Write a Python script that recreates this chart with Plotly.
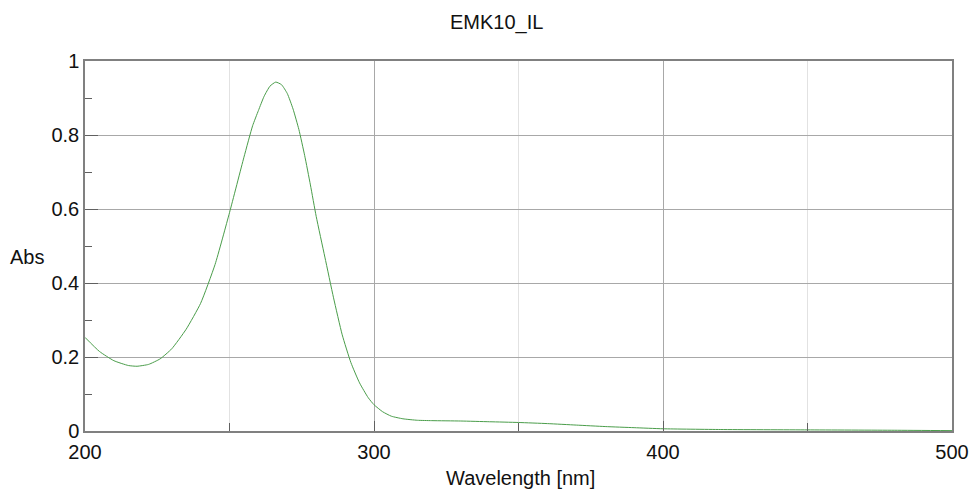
import plotly.graph_objects as go

wavelength = [200, 205, 210, 215, 218, 222, 226, 230, 235, 240, 245, 250, 255, 258, 260,
              262, 264, 266, 268, 270, 272, 274, 276, 278, 280, 283, 286, 289, 292, 295,
              298, 300, 303, 306, 310, 315, 320, 330, 340, 350, 360, 370, 380, 390, 400,
              420, 450, 480, 500]
absorbance = [0.253, 0.215, 0.190, 0.177, 0.175, 0.180, 0.195, 0.222, 0.275, 0.345, 0.450,
              0.590, 0.740, 0.825, 0.866, 0.905, 0.932, 0.943, 0.936, 0.912, 0.870, 0.815,
              0.745, 0.665, 0.580, 0.470, 0.360, 0.260, 0.185, 0.130, 0.090, 0.071, 0.052,
              0.040, 0.033, 0.029, 0.028, 0.027, 0.025, 0.023, 0.020, 0.016, 0.012, 0.009,
              0.006, 0.004, 0.003, 0.002, 0.001]

title_text = "EMK10_IL"
x_title = "Wavelength [nm]"
y_title = "Abs"

font_family = "Liberation Sans, Arial, sans-serif"

fig = go.Figure()
fig.add_trace(go.Scatter(x=wavelength, y=absorbance, mode="lines",
                         line=dict(color="#4a9d4a", width=1, shape="spline", smoothing=0.5),
                         showlegend=False, hoverinfo="skip"))

axis_common = dict(
    showline=True, linecolor="#808080", linewidth=1.5, mirror=True,
    ticks="inside", tickcolor="#606060", zeroline=False, automargin=False,
    tickfont=dict(family=font_family, size=20, color="#111111"),
)

fig.update_xaxes(
    range=[200, 500], tickvals=[200, 300, 400, 500], ticklen=10,
    showgrid=True, gridcolor="#a8a8a8", gridwidth=1,
    minor=dict(dtick=50, tick0=200, showgrid=True, gridcolor="#e2e2e2", gridwidth=1,
               ticks="inside", ticklen=8, tickcolor="#606060"),
    ticklabelstandoff=2, ticklabeloverflow="allow",
    **axis_common,
)
fig.update_yaxes(
    range=[0, 1], tickvals=[0, 0.2, 0.4, 0.6, 0.8, 1], ticktext=["0", "0.2", "0.4", "0.6", "0.8", "1"],
    ticklen=13,
    showgrid=True, gridcolor="#a8a8a8", gridwidth=1,
    minor=dict(dtick=0.1, tick0=0, showgrid=False, ticks="inside", ticklen=7, tickcolor="#606060"),
    **axis_common,
)

fig.update_layout(
    width=970, height=489,
    margin=dict(l=85, r=18, t=61, b=58, pad=0),
    paper_bgcolor="white", plot_bgcolor="white",
    font=dict(family=font_family, color="#111111"),
    annotations=[
        dict(text=title_text, xref="paper", yref="paper", x=0.475, y=1, yshift=39,
             xanchor="center", yanchor="middle", showarrow=False,
             font=dict(family=font_family, size=20, color="#111111")),
        dict(text=y_title, xref="paper", yref="paper", x=0, xshift=-58, y=0.47,
             xanchor="center", yanchor="middle", showarrow=False,
             font=dict(family=font_family, size=20, color="#111111")),
        dict(text=x_title, xref="paper", yref="paper", x=0.502, y=0, yshift=-47,
             xanchor="center", yanchor="middle", showarrow=False,
             font=dict(family=font_family, size=20, color="#111111")),
    ],
)

# Remove the default page margin so the 970x489 figure fills the window exactly.
fig.write_html(
    "out.html",
    config={"displayModeBar": False},
    post_script="document.body.style.margin='0';document.body.style.overflow='hidden';",
)
